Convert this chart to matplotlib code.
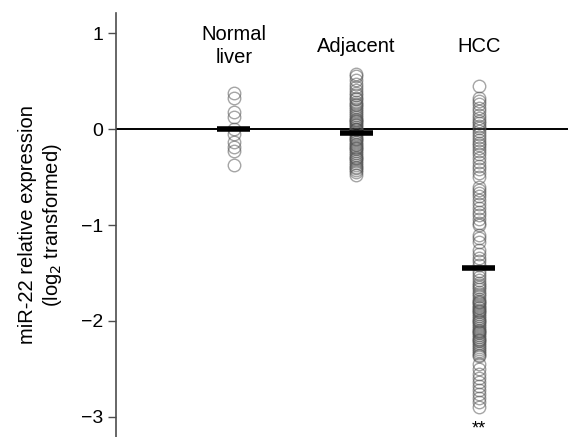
import matplotlib.pyplot as plt
import numpy as np

plt.rcParams["font.family"] = ["Liberation Sans", "DejaVu Sans"]

groups = ["Normal\nliver", "Adjacent", "HCC"]

normal = [0.38, 0.32, 0.18, 0.13, 0.0, -0.05, -0.13, -0.19, -0.23, -0.37]

adjacent = [0.58, 0.55, 0.51, 0.47, 0.44, 0.41, 0.38, 0.36, 0.33, 0.31,
            0.28, 0.26, 0.25, 0.23, 0.21, 0.19, 0.17, 0.15, 0.13, 0.11,
            0.10, 0.09, 0.07, 0.05, 0.04, 0.02, 0.0, 0.0, -0.01, -0.03,
            -0.05, -0.07, -0.09, -0.10, -0.11, -0.13, -0.15, -0.17, -0.19,
            -0.20, -0.21, -0.23, -0.25, -0.27, -0.29, -0.30, -0.31, -0.33,
            -0.35, -0.37, -0.39, -0.41, -0.43, -0.45, -0.48]

hcc = [0.45, 0.32, 0.29, 0.26, 0.22, 0.19, 0.15, 0.12, 0.09, 0.06,
       0.03, 0.01, -0.02, -0.05, -0.08, -0.11, -0.14, -0.17, -0.20,
       -0.23, -0.26, -0.30, -0.34, -0.38, -0.42, -0.46, -0.50,
       -0.60, -0.63, -0.67, -0.70, -0.74, -0.78, -0.82, -0.86, -0.90,
       -0.94, -0.98, -1.00,
       -1.10, -1.14, -1.18, -1.26, -1.30, -1.34, -1.38, -1.42,
       -1.48, -1.51, -1.54, -1.57, -1.60, -1.62, -1.65, -1.67, -1.70,
       -1.72, -1.74, -1.77, -1.79, -1.80, -1.81, -1.83, -1.85, -1.87,
       -1.89, -1.90, -1.91, -1.93, -1.95, -1.97, -1.99, -2.00, -2.01,
       -2.03, -2.05, -2.07, -2.09, -2.10, -2.11, -2.13, -2.15, -2.17,
       -2.19, -2.20, -2.21, -2.23, -2.25, -2.27, -2.29, -2.31, -2.33,
       -2.35, -2.37,
       -2.45, -2.50, -2.55, -2.60, -2.64, -2.68, -2.72, -2.76, -2.80,
       -2.84, -2.90]

means = [0.0, -0.04, -1.45]

fig = plt.figure(figsize=(5.68, 4.37), dpi=100)
ax = fig.add_axes([0.204, 0.0, 0.796, 0.97])

for i, vals in enumerate([normal, adjacent, hcc]):
    x = np.full(len(vals), i + 1)
    ax.plot(x, vals, "o", ms=9, mfc="none", mec=(0.3, 0.3, 0.3),
            mew=1.0, alpha=0.5, zorder=3)
    ax.hlines(means[i], i + 1 - 0.135, i + 1 + 0.135, color="black",
              lw=4, zorder=4)

ax.axhline(0, color="black", lw=1.4, zorder=2)

ax.text(1, 0.865, groups[0], ha="center", va="center", fontsize=14.5,
        linespacing=1.3)
ax.text(2, 0.86, groups[1], ha="center", va="center", fontsize=14.5)
ax.text(3, 0.86, groups[2], ha="center", va="center", fontsize=14.5)
ax.text(3, -3.13, "**", ha="center", va="center", fontsize=13)

ax.set_xlim(0.037, 3.727)
ax.set_ylim(-3.21, 1.21)
ax.set_yticks([1, 0, -1, -2, -3])
ax.set_yticklabels(["1", "0", "\u22121", "\u22122", "\u22123"])
ax.set_xticks([])
for s in ["top", "right", "bottom"]:
    ax.spines[s].set_visible(False)
ax.spines["left"].set_color("0.3")
ax.spines["left"].set_linewidth(1.2)
ax.tick_params(axis="y", length=6, width=1, color="0.3", labelsize=14,
               pad=3)
ax.set_ylabel("miR-22 relative expression\n(log$_2$ transformed)",
              fontsize=14.5, labelpad=12, linespacing=1.25)

plt.savefig("out.png", dpi=100)
